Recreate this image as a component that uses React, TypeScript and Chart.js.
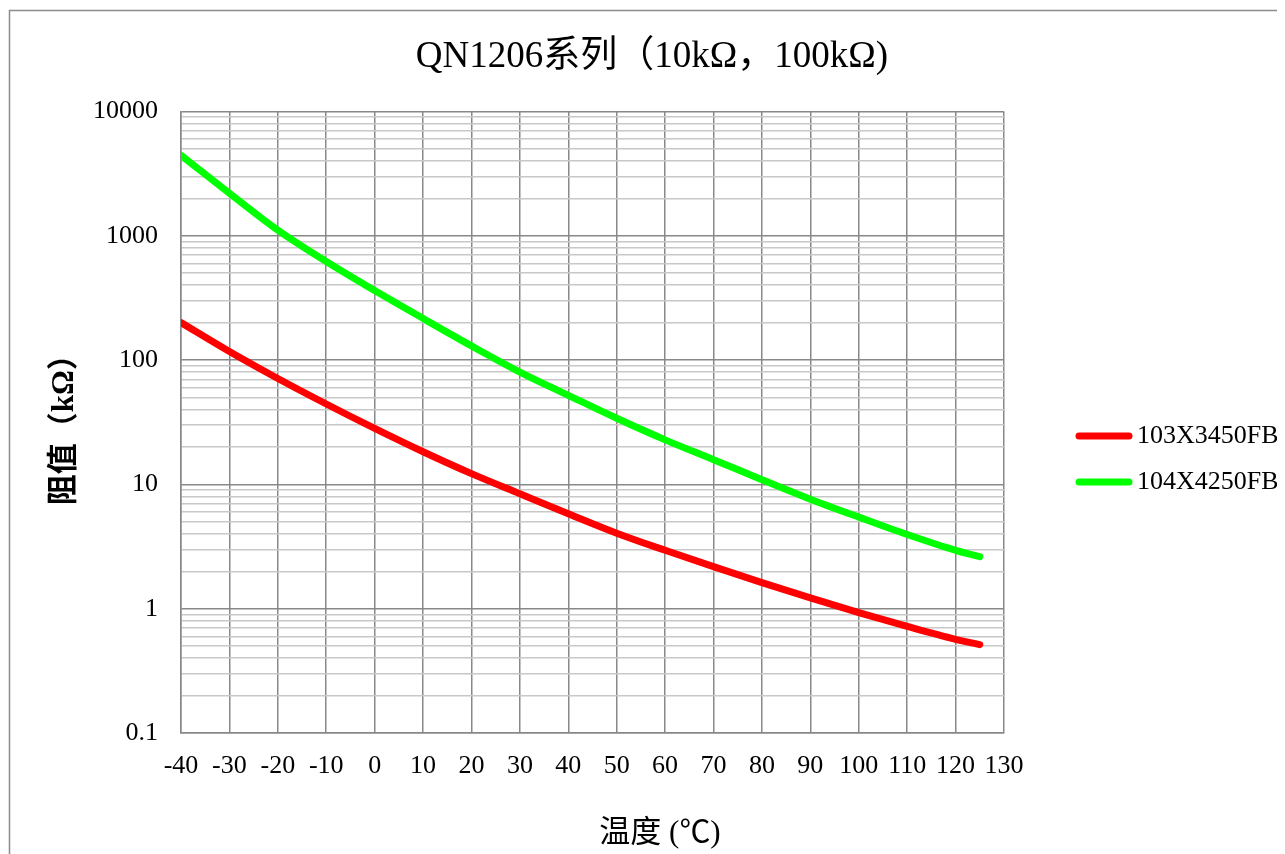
import { useEffect, useRef } from 'react';
import { Chart, registerables } from 'chart.js';

Chart.register(...registerables);

const FONT = "'Liberation Serif', 'Times New Roman', 'Noto Sans CJK SC', serif";

const chartTitle = 'QN1206系列（10kΩ，100kΩ)';
const yAxisTitle = '阻值（kΩ）';
const xAxisTitle = '温度 (℃)';

const temperatures = [-40, -30, -20, -10, 0, 10, 20, 30, 40, 50, 60, 70, 80, 90, 100, 110, 120, 125];
const series103Label = '103X3450FB';
const series103 = [200, 117, 71, 44.3, 28.2, 18.3, 12.2, 8.4, 5.8, 4.05, 2.95, 2.18, 1.62, 1.22, 0.93, 0.72, 0.567, 0.514];
const series104Label = '104X4250FB';
const series104 = [4430, 2200, 1110, 620, 362, 216, 130, 80, 52, 34, 22.8, 15.8, 10.9, 7.6, 5.45, 3.95, 2.95, 2.62];

const xTickValues = [-40, -30, -20, -10, 0, 10, 20, 30, 40, 50, 60, 70, 80, 90, 100, 110, 120, 130];
const xTickLabels = ['-40', '-30', '-20', '-10', '0', '10', '20', '30', '40', '50', '60', '70', '80', '90', '100', '110', '120', '130'];
const yMajorValues = [0.1, 1, 10, 100, 1000, 10000];
const yTickLabels = ['0.1', '1', '10', '100', '1000', '10000'];
const yMinorDigits = [2, 3, 4, 5, 6, 7, 8, 9];

const yGridValues: number[] = [];
yMajorValues.forEach((m, i) => {
  yGridValues.push(m);
  if (i < yMajorValues.length - 1) {
    yMinorDigits.forEach((d) => yGridValues.push(Number((d * m).toPrecision(10))));
  }
});

const majorIndex = (v: number) =>
  yMajorValues.findIndex((m) => Math.abs(Math.log10(m) - Math.log10(v)) < 1e-6);

export default function App() {
  const ref = useRef<HTMLCanvasElement>(null);

  useEffect(() => {
    document.documentElement.style.overflow = 'hidden';
    document.body.style.overflow = 'hidden';

    const extras = {
      id: 'extras',
      afterDraw(chart: any) {
        const ctx = chart.ctx as CanvasRenderingContext2D;
        ctx.save();
        // outer frame
        ctx.strokeStyle = '#8c8c8c';
        ctx.lineWidth = 1.5;
        ctx.beginPath();
        ctx.moveTo(1.5, chart.height);
        ctx.lineTo(1.5, 2.5);
        ctx.lineTo(chart.width, 2.5);
        ctx.stroke();
        // legend
        chart.data.datasets.forEach((ds: any, i: number) => {
          const y = 428 + i * 46;
          ctx.strokeStyle = ds.borderColor;
          ctx.lineWidth = 7;
          ctx.lineCap = 'round';
          ctx.beginPath();
          ctx.moveTo(1071, y);
          ctx.lineTo(1121, y);
          ctx.stroke();
          ctx.fillStyle = '#000';
          ctx.font = `26px ${FONT}`;
          ctx.textAlign = 'left';
          ctx.textBaseline = 'middle';
          ctx.fillText(ds.label, 1129, y);
        });
        // x axis title
        ctx.fillStyle = '#000';
        ctx.font = `31px ${FONT}`;
        ctx.textAlign = 'center';
        ctx.textBaseline = 'middle';
        ctx.fillText(xAxisTitle, 652, 826);
        ctx.restore();
      },
    };

    const chart = new Chart(ref.current!, {
      type: 'line',
      data: {
        datasets: [
          {
            label: series103Label,
            data: temperatures.map((t, i) => ({ x: t, y: series103[i] })),
            borderColor: '#ff0000',
            backgroundColor: '#ff0000',
            borderWidth: 7,
            pointRadius: 0,
            borderCapStyle: 'round',
            borderJoinStyle: 'round',
            cubicInterpolationMode: 'monotone',
            xAxisID: 'x',
            yAxisID: 'y',
          },
          {
            label: series104Label,
            data: temperatures.map((t, i) => ({ x: t, y: series104[i] })),
            borderColor: '#00ff00',
            backgroundColor: '#00ff00',
            borderWidth: 7,
            pointRadius: 0,
            borderCapStyle: 'round',
            borderJoinStyle: 'round',
            cubicInterpolationMode: 'monotone',
            xAxisID: 'x',
            yAxisID: 'y',
          },
        ],
      },
      options: {
        responsive: false,
        animation: false,
        devicePixelRatio: 1,
        layout: { padding: { left: 11, right: 0, top: 0, bottom: 0 } },
        plugins: {
          legend: { display: false },
          tooltip: { enabled: false },
          title: {
            display: true,
            text: chartTitle,
            color: '#000',
            font: { family: FONT, size: 37, weight: 'normal' },
            padding: { top: 27, bottom: 32 },
          },
        },
        scales: {
          x: {
            type: 'linear',
            min: -40,
            max: 130,
            afterBuildTicks: (s: any) => {
              s.ticks = xTickValues.map((v) => ({ value: v }));
            },
            afterFit: (s: any) => {
              s.height = 121;
            },
            ticks: {
              autoSkip: false,
              maxRotation: 0,
              minRotation: 0,
              padding: 18,
              color: '#000',
              font: { family: FONT, size: 26 },
              callback: (v: any) => {
                const i = xTickValues.indexOf(Number(v));
                return i >= 0 ? xTickLabels[i] : '';
              },
            },
            grid: { drawTicks: false, color: '#888888', lineWidth: 1.5 },
            border: { color: '#888888', width: 1.5 },
          },
          y: {
            type: 'logarithmic',
            position: 'left',
            min: 0.1,
            max: 10000,
            afterBuildTicks: (s: any) => {
              s.ticks = yGridValues.map((v) => ({ value: v }));
            },
            afterFit: (s: any) => {
              s.width = 162;
            },
            ticks: {
              autoSkip: false,
              padding: 23,
              color: '#000',
              font: { family: FONT, size: 26 },
              callback: (v: any) => {
                const i = majorIndex(Number(v));
                return i >= 0 ? yTickLabels[i] : '';
              },
            },
            grid: {
              drawTicks: false,
              lineWidth: 1.5,
              color: (c: any) => (c.tick && majorIndex(c.tick.value) >= 0 ? '#888888' : '#c8c8c8'),
            },
            border: { color: '#888888', width: 1.5 },
            title: {
              display: true,
              text: yAxisTitle,
              color: '#000',
              font: { family: FONT, size: 31, weight: 'bold' },
              padding: { top: 27, bottom: 0 },
            },
          },
          yR: {
            type: 'linear',
            position: 'right',
            display: true,
            grid: { display: false },
            ticks: { display: false },
            border: { display: false },
            afterFit: (s: any) => {
              s.width = 281;
            },
          },
        },
      },
      plugins: [extras],
    } as any);

    return () => chart.destroy();
  }, []);

  return (
    <div style={{ width: 1277, height: 846 }}>
      <canvas ref={ref} width={1277} height={846} style={{ display: 'block' }} />
    </div>
  );
}
